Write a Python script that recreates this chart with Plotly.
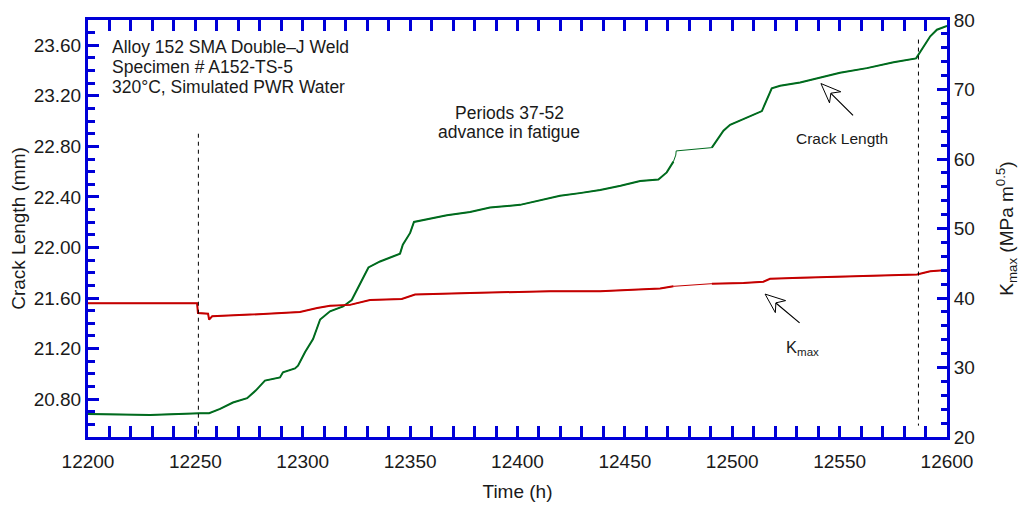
import math
import plotly.graph_objects as go

# Crack length (mm) vs time (h), left axis
crack_time = [12200.0, 12214.9, 12228.9, 12252.2, 12256.4, 12261.5, 12267.5, 12274.1,
              12278.2, 12282.4, 12287.1, 12289.4, 12290.8, 12296.4, 12297.8, 12301.1,
              12304.8, 12308.1, 12312.7, 12318.8, 12322.8, 12326.7, 12330.6, 12336.0,
              12345.3, 12346.6, 12350.0, 12351.8, 12359.3, 12367.1, 12377.9, 12387.2,
              12401.2, 12415.2, 12419.8, 12429.0, 12438.5, 12448.0, 12457.1, 12465.6,
              12469.5, 12472.6, 12473.7, 12473.9, 12490.5, 12495.9, 12499.0, 12506.8,
              12513.8, 12518.4, 12522.3, 12531.6, 12540.9, 12550.2, 12562.7, 12575.1,
              12585.6, 12589.0, 12592.2, 12595.3, 12600.0]
crack_mm = [20.683, 20.678, 20.675, 20.688, 20.688, 20.722, 20.773, 20.807,
            20.869, 20.946, 20.966, 20.971, 21.012, 21.043, 21.064, 21.172,
            21.275, 21.430, 21.495, 21.533, 21.584, 21.713, 21.842, 21.889,
            21.951, 22.022, 22.115, 22.202, 22.229, 22.254, 22.280, 22.316,
            22.337, 22.391, 22.409, 22.430, 22.455, 22.488, 22.525, 22.538,
            22.594, 22.679, 22.731, 22.764, 22.790, 22.924, 22.971, 23.027,
            23.079, 23.259, 23.280, 23.305, 23.342, 23.383, 23.419, 23.465,
            23.496, 23.581, 23.671, 23.723, 23.753]

# Kmax (MPa m^0.5) vs time (h), right axis
kmax_time = [12200.0, 12250.8, 12251.2, 12255.9, 12256.4, 12257.8, 12275.5, 12298.7,
             12306.7, 12312.7, 12322.0, 12331.3, 12346.1, 12352.3, 12378.0, 12415.2,
             12438.5, 12466.4, 12472.6, 12490.5, 12505.2, 12514.5, 12517.6, 12531.6,
             12554.9, 12586.0, 12592.2, 12600.0]
kmax_val = [39.25, 39.25, 37.84, 37.75, 36.90, 37.38, 37.61, 37.99,
            38.55, 38.87, 39.01, 39.71, 39.85, 40.51, 40.72, 40.98,
            40.98, 41.36, 41.68, 42.06, 42.16, 42.34, 42.76, 42.90,
            43.09, 43.37, 43.84, 44.03]

# Stretch with no logged data (h), bridged by a thin line
unlogged = (12472.5, 12490.5)

# Period boundaries (h) and extents of the dashed markers (mm)
period_marks = [12251.4, 12586.7]
period_mark_top = [22.90, 23.645]
period_mark_bottom = [20.50, 20.59]

X_RANGE = [12200, 12600]
Y_RANGE = [20.5, 23.8]
Y2_RANGE = [20, 80]

W, H = 1024, 510
ML, MR, MT, MB = 88, 77, 10, 73
PW, PH = W - ML - MR, H - MT - MB

GREEN = "#006B1E"
RED = "#C40000"
BLUE = "#0000D8"
INK = "#1a1a1a"
FONT = "Liberation Sans, Arial, sans-serif"


def split_unlogged(t, v):
    """Break the record where a step spans the unlogged stretch."""
    xs, ys = [t[0]], [v[0]]
    for i in range(1, len(t)):
        if t[i - 1] >= unlogged[0] - 1e-9 and t[i] <= unlogged[1] + 1e-9:
            xs.append(None)
            ys.append(None)
        xs.append(t[i])
        ys.append(v[i])
    return xs, ys


def to_px(x, y, yr):
    px = ML + (x - X_RANGE[0]) / (X_RANGE[1] - X_RANGE[0]) * PW
    py = MT + (yr[1] - y) / (yr[1] - yr[0]) * PH
    return px, py


def to_paper(px, py):
    return (px - ML) / PW, (H - MB - py) / PH


fig = go.Figure()

# thin connector across the unlogged stretch, then the measured record on top
fig.add_trace(go.Scatter(x=crack_time, y=crack_mm, mode="lines",
                         line=dict(color=GREEN, width=1), hoverinfo="skip",
                         showlegend=False))
cx, cy = split_unlogged(crack_time, crack_mm)
fig.add_trace(go.Scatter(x=cx, y=cy, mode="lines", connectgaps=False,
                         line=dict(color=GREEN, width=2), name="Crack Length",
                         showlegend=False))

fig.add_trace(go.Scatter(x=kmax_time, y=kmax_val, mode="lines", yaxis="y2",
                         line=dict(color=RED, width=1), hoverinfo="skip",
                         showlegend=False))
kx, ky = split_unlogged(kmax_time, kmax_val)
fig.add_trace(go.Scatter(x=kx, y=ky, mode="lines", yaxis="y2", connectgaps=False,
                         line=dict(color=RED, width=2), name="Kmax",
                         showlegend=False))

shapes = []
for xm, top, bot in zip(period_marks, period_mark_top, period_mark_bottom):
    # drawn top-down so the dash pattern starts at the upper end
    shapes.append(dict(type="line", xref="x", yref="y", x0=xm, x1=xm, y0=top, y1=bot,
                       line=dict(color="black", width=1, dash="4px,4px")))

annotations = []


def hollow_arrow(tip_x, tip_y, yr, yref, dx, dy):
    """Arrow with an open, notched head; dx/dy give the tail offset in pixels."""
    tpx, tpy = to_px(tip_x, tip_y, yr)
    L = math.hypot(dx, dy)
    ux, uy = dx / L, dy / L
    nx, ny = -uy, ux
    head, half, notch = 20.0, 8.0, 14.0
    pts = [(tpx, tpy),
           (tpx + head * ux + half * nx, tpy + head * uy + half * ny),
           (tpx + notch * ux, tpy + notch * uy),
           (tpx + head * ux - half * nx, tpy + head * uy - half * ny)]
    path = "M " + " L ".join("%.5f %.5f" % to_paper(px, py) for px, py in pts) + " Z"
    shapes.append(dict(type="path", xref="paper", yref="paper", path=path,
                       fillcolor="white", line=dict(color="black", width=1)))
    annotations.append(dict(x=tip_x, y=tip_y, xref="x", yref=yref, text="",
                            showarrow=True, arrowhead=0, arrowwidth=1.2,
                            arrowcolor="black", ax=dx, ay=dy, standoff=notch))


hollow_arrow(12541.3, 23.297, Y_RANGE, "y", 33.6, 33.3)
hollow_arrow(12515.3, 40.56, Y2_RANGE, "y2", 36.0, 30.0)


def text_at(px, py, text, size, xanchor="center"):
    xp, yp = to_paper(px, py)
    annotations.append(dict(x=xp, y=yp, xref="paper", yref="paper", text=text,
                            showarrow=False, xanchor=xanchor, yanchor="middle",
                            font=dict(family=FONT, size=size, color=INK)))


text_at(110, 38, "Alloy 152 SMA Double–J Weld", 17.5, "left")
text_at(110, 58.5, "Specimen # A152-TS-5", 17.5, "left")
text_at(110, 79, "320°C, Simulated PWR Water", 17.5, "left")
text_at(509, 105, "Periods 37-52", 17.5)
text_at(509, 125, "advance in fatigue", 17.5)
text_at(842, 131.5, "Crack Length", 15.5)
text_at(802, 346, "K<sub>max</sub>", 16.5)

axis_common = dict(showline=True, linecolor=BLUE, linewidth=3, ticks="inside",
                   tickcolor=BLUE, tickwidth=2.5, showgrid=False, zeroline=False,
                   tickfont=dict(family=FONT, size=19, color=INK))

fig.update_layout(
    width=W, height=H,
    margin=dict(l=ML, r=MR, t=MT, b=MB, pad=0),
    paper_bgcolor="white", plot_bgcolor="white",
    font=dict(family=FONT, color=INK),
    showlegend=False,
    xaxis=dict(range=X_RANGE, tick0=12200, dtick=50, tickformat="d", ticklen=11,
               mirror="allticks", ticklabelstandoff=5,
               minor=dict(dtick=10, ticklen=6, tickcolor=BLUE, tickwidth=2.5, ticks="inside"),
               title=dict(text="Time (h)", font=dict(family=FONT, size=19, color=INK),
                          standoff=14),
               **axis_common),
    yaxis=dict(range=Y_RANGE, tick0=20.0, dtick=0.4, tickformat=".2f", ticklen=11,
               minor=dict(dtick=0.1, ticklen=7, tickcolor=BLUE, tickwidth=2.5, ticks="inside"),
               title=dict(text="Crack Length (mm)", font=dict(family=FONT, size=19, color=INK),
                          standoff=4),
               **axis_common),
    yaxis2=dict(range=Y2_RANGE, tick0=20, dtick=10, ticklen=10, overlaying="y", side="right",
                minor=dict(dtick=2, ticklen=6, tickcolor=BLUE, tickwidth=2.5, ticks="inside"),
                title=dict(text="K<sub>max</sub> (MPa m<sup>0.5</sup>)",
                           font=dict(family=FONT, size=19, color=INK), standoff=26),
                **axis_common),
    shapes=shapes,
    annotations=annotations,
)

fig.write_html("out.html")
